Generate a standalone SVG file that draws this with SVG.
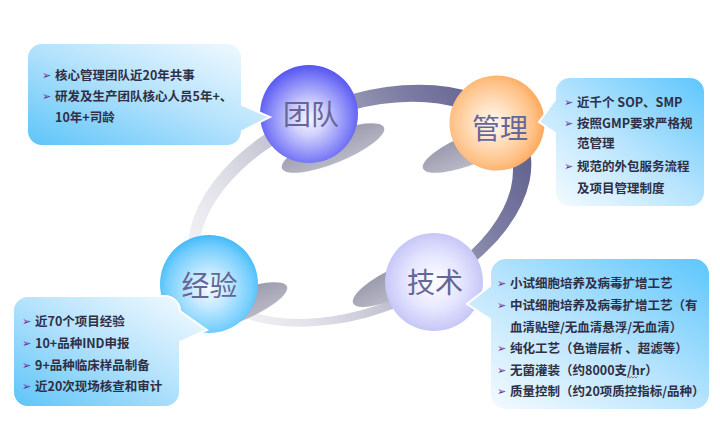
<svg xmlns="http://www.w3.org/2000/svg" width="720" height="445" viewBox="0 0 720 445">
<defs>
<style>
.t{font-family:"Noto Sans CJK SC","Noto Sans",sans-serif;font-size:12.5px;font-weight:bold;fill:#2f2f45}
.b{font-family:"DejaVu Sans",sans-serif;font-size:11px;fill:#6a2a9c}
.c{font-family:"Noto Sans CJK SC",sans-serif;font-size:28px;fill:#66669a;text-anchor:middle}
.box{stroke:#ffffff;stroke-width:2}
.sh{fill:url(#shadow)}
</style>
<linearGradient id="ringG" gradientUnits="userSpaceOnUse" x1="250" y1="320" x2="520" y2="140">
<stop offset="0" stop-color="#efeff3"/>
<stop offset="0.15" stop-color="#e2e2ea"/>
<stop offset="0.35" stop-color="#c6c6d4"/>
<stop offset="0.6" stop-color="#9a9ab6"/>
<stop offset="0.8" stop-color="#7a7aa2"/>
<stop offset="1" stop-color="#626290"/>
</linearGradient>
<linearGradient id="shadow" x1="0" y1="0" x2="0" y2="1">
<stop offset="0" stop-color="#9a9aae"/>
<stop offset="1" stop-color="#b8b8c6"/>
</linearGradient>
<radialGradient id="gTeam" cx="0.5" cy="0.55" r="0.55">
<stop offset="0" stop-color="#f4f4ff"/>
<stop offset="0.3" stop-color="#d2d2fc"/>
<stop offset="0.75" stop-color="#8282f8"/>
<stop offset="1" stop-color="#5454f0"/>
</radialGradient>
<radialGradient id="gMgmt" cx="0.45" cy="0.5" r="0.55">
<stop offset="0" stop-color="#fffaf4"/>
<stop offset="0.35" stop-color="#ffe2c4"/>
<stop offset="0.8" stop-color="#ffc084"/>
<stop offset="1" stop-color="#ffa85c"/>
</radialGradient>
<radialGradient id="gTech" cx="0.5" cy="0.5" r="0.55">
<stop offset="0" stop-color="#ffffff"/>
<stop offset="0.5" stop-color="#e6e6ff"/>
<stop offset="1" stop-color="#c0c0f6"/>
</radialGradient>
<radialGradient id="gExp" cx="0.5" cy="0.55" r="0.55">
<stop offset="0" stop-color="#f4fbff"/>
<stop offset="0.35" stop-color="#c2e9ff"/>
<stop offset="0.8" stop-color="#72cdfd"/>
<stop offset="1" stop-color="#42b9f8"/>
</radialGradient>
<linearGradient id="boxA" x1="0" y1="1" x2="1" y2="0">
<stop offset="0" stop-color="#5cc4f8"/>
<stop offset="0.5" stop-color="#b4e2fc"/>
<stop offset="1" stop-color="#f8fcff"/>
</linearGradient>
<linearGradient id="boxB" x1="1" y1="0" x2="0" y2="1">
<stop offset="0" stop-color="#5cc6fc"/>
<stop offset="0.5" stop-color="#b8e4fd"/>
<stop offset="1" stop-color="#fafdff"/>
</linearGradient>
</defs>
<rect width="720" height="445" fill="#ffffff"/>

<g id="connectors">
<path d="M193.4,273 A179.5,107.5 -22 1 1 526.2,138.4 A179.5,107.5 -22 1 1 193.4,273 Z M203.7,272 A164.5,96.5 -22 1 1 508.7,148.6 A164.5,96.5 -22 1 1 203.7,272 Z" fill="url(#ringG)" fill-rule="evenodd"/>
<ellipse class="sh" cx="333" cy="148" rx="55" ry="15" transform="rotate(-22 333 148)"/>
<ellipse class="sh" cx="474" cy="148" rx="55" ry="15" transform="rotate(-22 474 148)"/>
<ellipse class="sh" cx="403" cy="280" rx="55" ry="15" transform="rotate(-25 403 280)"/>
<ellipse class="sh" cx="236" cy="307" rx="55" ry="15" transform="rotate(-22 236 307)"/>
</g>

<g id="node-team">
<circle cx="309" cy="114" r="49" fill="url(#gTeam)"/>
<text class="c" x="311" y="125">团队</text>
<path class="box" fill="url(#boxA)" d="M42,43 H227 A15,15 0 0 1 242,58 V105 L270,117 L242,131 A15,15 0 0 1 227,146 H42 A15,15 0 0 1 27,131 V58 A15,15 0 0 1 42,43 Z"/>
<text class="b" x="42" y="79">➢</text>
<text class="t" x="55" y="80">核心管理团队近20年共事</text>
<text class="b" x="42" y="100">➢</text>
<text class="t" x="55" y="101">研发及生产团队核心人员5年+、</text>
<text class="t" x="55" y="122">10年+司龄</text>
</g>

<g id="node-mgmt">
<circle cx="497" cy="123" r="47.5" fill="url(#gMgmt)"/>
<text class="c" x="500" y="138.5">管理</text>
<path class="box" fill="url(#boxB)" d="M570,77 H690 A15,15 0 0 1 705,92 V192 A15,15 0 0 1 690,207 H570 A15,15 0 0 1 555,192 V133 L539,122 L555,100 V92 A15,15 0 0 1 570,77 Z"/>
<text class="b" x="564" y="106">➢</text>
<text class="t" x="577" y="107">近千个 SOP、SMP</text>
<text class="b" x="564" y="127">➢</text>
<text class="t" x="577" y="128">按照GMP要求严格规</text>
<text class="t" x="577" y="148">范管理</text>
<text class="b" x="564" y="170">➢</text>
<text class="t" x="577" y="171">规范的外包服务流程</text>
<text class="t" x="577" y="193">及项目管理制度</text>
</g>

<g id="node-tech">
<circle cx="434" cy="282" r="49" fill="url(#gTech)"/>
<text class="c" x="435" y="293">技术</text>
<path class="box" fill="url(#boxB)" d="M506,258 H694 A16,16 0 0 1 710,274 V394 A16,16 0 0 1 694,410 H506 A16,16 0 0 1 490,394 V319 L467,304 L490,286 V274 A16,16 0 0 1 506,258 Z"/>
<text class="b" x="497" y="287">➢</text>
<text class="t" x="510" y="288">小试细胞培养及病毒扩增工艺</text>
<text class="b" x="497" y="309">➢</text>
<text class="t" x="510" y="310">中试细胞培养及病毒扩增工艺（有</text>
<text class="t" x="510" y="332">血清贴壁/无血清悬浮/无血清）</text>
<text class="b" x="497" y="352">➢</text>
<text class="t" x="510" y="353">纯化工艺（色谱层析 、超滤等）</text>
<text class="b" x="497" y="374">➢</text>
<text class="t" x="510" y="375">无菌灌装（约8000支/hr）</text>
<path d="M627,378 l1.5,-1.5 l1.5,1.5 l1.5,-1.5 l1.5,1.5 l1.5,-1.5 l1.5,1.5 l1.5,-1.5" fill="none" stroke="#e03030" stroke-width="0.8"/>
<text class="b" x="497" y="395">➢</text>
<text class="t" x="510" y="396">质量控制（约20项质控指标/品种）</text>
</g>

<g id="node-exp">
<circle cx="209" cy="284" r="49" fill="url(#gExp)"/>
<text class="c" x="209.5" y="296">经验</text>
<path class="box" fill="url(#boxA)" d="M28,296 H165 A15,15 0 0 1 180,311 L207,330 L180,342 V392 A15,15 0 0 1 165,407 H28 A15,15 0 0 1 13,392 V311 A15,15 0 0 1 28,296 Z"/>
<text class="b" x="22" y="325">➢</text>
<text class="t" x="35" y="326">近70个项目经验</text>
<text class="b" x="22" y="347">➢</text>
<text class="t" x="35" y="348">10+品种IND申报</text>
<text class="b" x="22" y="369">➢</text>
<text class="t" x="35" y="370">9+品种临床样品制备</text>
<text class="b" x="22" y="390">➢</text>
<text class="t" x="35" y="391">近20次现场核查和审计</text>
</g>
</svg>
